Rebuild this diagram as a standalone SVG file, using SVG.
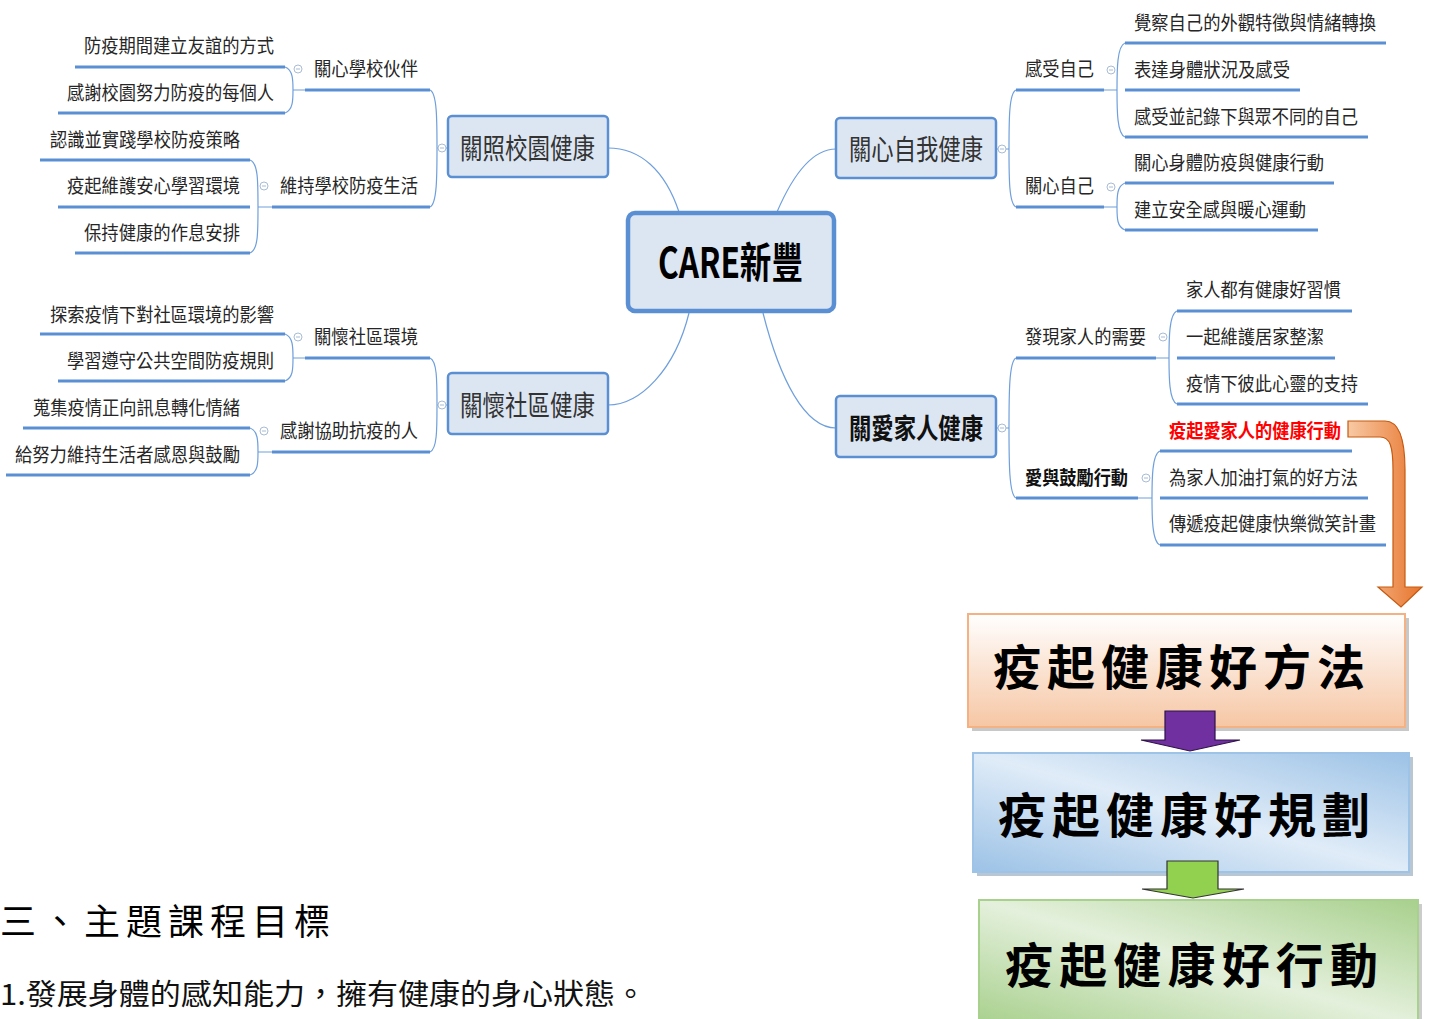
<svg xmlns="http://www.w3.org/2000/svg" width="1429" height="1019" viewBox="0 0 1429 1019">
<style>
.t{font-family:"Noto Sans CJK TC","Noto Sans CJK SC",sans-serif;font-size:19px;fill:#262626}
.m{font-family:"Noto Sans CJK TC","Noto Sans CJK SC",sans-serif;font-size:28px;fill:#333}
.b{font-weight:bold;fill:#111}
.u{stroke:#5b8fd4;stroke-width:3;fill:none}
.k{stroke:#6f9fdc;stroke-width:1.2;fill:none}
.mb{fill:#dce6f2;stroke:#5b8fd4;stroke-width:2.5}
.c{fill:#fff;stroke:#a8bcd6;stroke-width:1}
.big{font-family:"Noto Sans CJK TC","Noto Sans CJK SC",serif;font-size:48px;font-weight:bold;fill:#000}
</style>
<defs>
<linearGradient id="gOr" x1="0" y1="0" x2="1" y2="0"><stop offset="0" stop-color="#f8c9a4"/><stop offset="1" stop-color="#e8742c"/></linearGradient>
<linearGradient id="g1" x1="0" y1="0" x2="0" y2="1"><stop offset="0" stop-color="#ffffff"/><stop offset="1" stop-color="#f6c6a4"/></linearGradient>
<linearGradient id="g2" x1="1" y1="0" x2="0" y2="1"><stop offset="0" stop-color="#9cc2e6"/><stop offset="0.5" stop-color="#e0ecf8"/><stop offset="1" stop-color="#9cc2e6"/></linearGradient>
<linearGradient id="g3" x1="1" y1="0" x2="0" y2="1"><stop offset="0" stop-color="#a8d08d"/><stop offset="0.5" stop-color="#e4f0dc"/><stop offset="1" stop-color="#a8d08d"/></linearGradient>
</defs>
<rect width="1429" height="1019" fill="#fff"/>

<g id="connectors">
<path class="k" d="M679,212 C665,170 640,148 608,148"/>
<path class="k" d="M777,212 C795,170 815,149 836,149"/>
<path class="k" d="M689,313 C675,370 640,405 608,405"/>
<path class="k" d="M763,313 C780,380 805,428 836,428"/>
<path class="k" d="M430,90 C437,93 437,120 437,148 C437,176 437,204 430,207 M437,148 H448"/>
<path class="k" d="M285,67 C293,70 293,80 293,90 C293,100 293,110 285,113 M293,90 H305"/>
<path class="k" d="M250,160 C258,163 258,180 258,207 C258,234 258,250 250,253 M258,207 H272"/>
<path class="k" d="M430,358 C437,361 437,380 437,405 C437,430 437,449 430,452 M437,405 H448"/>
<path class="k" d="M285,334 C293,337 293,347 293,358 C293,369 293,378 285,381 M293,358 H305"/>
<path class="k" d="M250,428 C258,431 258,441 258,452 C258,463 258,472 250,475 M258,452 H272"/>
<path class="k" d="M1016,90 C1009,93 1009,120 1009,149 C1009,178 1009,204 1016,207 M996,149 H1009"/>
<path class="k" d="M1125,43 C1117,46 1117,70 1117,90 C1117,110 1117,134 1125,137 M1104,90 H1117"/>
<path class="k" d="M1125,183 C1117,186 1117,196 1117,207 C1117,218 1117,227 1125,230 M1104,207 H1117"/>
<path class="k" d="M1016,358 C1009,361 1009,395 1009,428 C1009,461 1009,495 1016,498 M996,428 H1009"/>
<path class="k" d="M1177,311 C1169,314 1169,340 1169,358 C1169,376 1169,401 1177,404 M1156,358 H1169"/>
<path class="k" d="M1160,451 C1152,454 1152,480 1152,498 C1152,516 1152,542 1160,545 M1138,498 H1152"/>
<path class="u" d="M75,67H285 M58,113H285 M305,90H430 M40,160H250 M58,207H250 M75,253H250 M272,207H430"/>
<path class="u" d="M40,334H285 M58,381H285 M305,358H430 M23,428H250 M6,475H250 M272,452H430"/>
<path class="u" d="M1016,90H1104 M1016,207H1104 M1125,43H1386 M1125,90H1300 M1125,137H1368 M1125,183H1334 M1125,230H1318"/>
<path class="u" d="M1016,358H1156 M1016,498H1138 M1177,311H1352 M1177,358H1335 M1177,404H1368 M1160,451H1352 M1160,498H1368 M1160,545H1386"/>
<g>
<circle class="c" cx="298" cy="69" r="4"/><circle class="c" cx="264" cy="186" r="4"/><circle class="c" cx="442" cy="148" r="4"/>
<circle class="c" cx="298" cy="337" r="4"/><circle class="c" cx="264" cy="431" r="4"/><circle class="c" cx="442" cy="405" r="4"/>
<circle class="c" cx="1002" cy="149" r="4"/><circle class="c" cx="1111" cy="70" r="4"/><circle class="c" cx="1111" cy="187" r="4"/>
<circle class="c" cx="1002" cy="428" r="4"/><circle class="c" cx="1163" cy="337" r="4"/><circle class="c" cx="1146" cy="478" r="4"/>
<path stroke="#a8bcd6" stroke-width="1" d="M296,69h4 M262,186h4 M440,148h4 M296,337h4 M262,431h4 M440,405h4 M1000,149h4 M1109,70h4 M1109,187h4 M1000,428h4 M1161,337h4 M1144,478h4"/>
</g>
<path d="M1348,421 H1385 C1400,421 1405,440 1405,470 V587 H1422 L1401,607 L1378,587 H1393 V470 C1393,446 1390,437 1380,437 H1348 Z" fill="url(#gOr)" stroke="#c55a11" stroke-width="1.2"/>
</g>

<g id="center">
<rect x="628" y="213" width="206" height="98" rx="7" fill="#dce6f2" stroke="#5b8fd4" stroke-width="4.5"/>
<text x="658" y="278" font-family="'Noto Sans CJK TC',sans-serif" font-size="42" font-weight="bold" fill="#000" textLength="145" lengthAdjust="spacingAndGlyphs">CARE新豐</text>
</g>

<g id="n-school">
<rect class="mb" x="448" y="116" width="160" height="61" rx="4"/>
<text class="m" x="460" y="159" textLength="135" lengthAdjust="spacingAndGlyphs">關照校園健康</text>
</g>
<g id="n-school-partner"><text class="t" x="314" y="76" textLength="104" lengthAdjust="spacingAndGlyphs">關心學校伙伴</text></g>
<g id="n-school-1"><text class="t" x="84" y="53" textLength="190" lengthAdjust="spacingAndGlyphs">防疫期間建立友誼的方式</text></g>
<g id="n-school-2"><text class="t" x="67" y="100" textLength="207" lengthAdjust="spacingAndGlyphs">感謝校園努力防疫的每個人</text></g>
<g id="n-school-life"><text class="t" x="280" y="193" textLength="138" lengthAdjust="spacingAndGlyphs">維持學校防疫生活</text></g>
<g id="n-school-3"><text class="t" x="50" y="147" textLength="190" lengthAdjust="spacingAndGlyphs">認識並實踐學校防疫策略</text></g>
<g id="n-school-4"><text class="t" x="67" y="193" textLength="173" lengthAdjust="spacingAndGlyphs">疫起維護安心學習環境</text></g>
<g id="n-school-5"><text class="t" x="84" y="240" textLength="156" lengthAdjust="spacingAndGlyphs">保持健康的作息安排</text></g>

<g id="n-community">
<rect class="mb" x="448" y="373" width="160" height="61" rx="4"/>
<text class="m" x="460" y="416" textLength="135" lengthAdjust="spacingAndGlyphs">關懷社區健康</text>
</g>
<g id="n-comm-env"><text class="t" x="314" y="344" textLength="104" lengthAdjust="spacingAndGlyphs">關懷社區環境</text></g>
<g id="n-comm-1"><text class="t" x="50" y="322" textLength="224" lengthAdjust="spacingAndGlyphs">探索疫情下對社區環境的影響</text></g>
<g id="n-comm-2"><text class="t" x="67" y="368" textLength="207" lengthAdjust="spacingAndGlyphs">學習遵守公共空間防疫規則</text></g>
<g id="n-comm-thanks"><text class="t" x="280" y="438" textLength="138" lengthAdjust="spacingAndGlyphs">感謝協助抗疫的人</text></g>
<g id="n-comm-3"><text class="t" x="33" y="415" textLength="207" lengthAdjust="spacingAndGlyphs">蒐集疫情正向訊息轉化情緒</text></g>
<g id="n-comm-4"><text class="t" x="15" y="462" textLength="225" lengthAdjust="spacingAndGlyphs">給努力維持生活者感恩與鼓勵</text></g>

<g id="n-self">
<rect class="mb" x="836" y="118" width="160" height="60" rx="4"/>
<text class="m" x="849" y="160" textLength="134" lengthAdjust="spacingAndGlyphs">關心自我健康</text>
</g>
<g id="n-self-feel"><text class="t" x="1025" y="76" textLength="69" lengthAdjust="spacingAndGlyphs">感受自己</text></g>
<g id="n-self-care"><text class="t" x="1025" y="193" textLength="69" lengthAdjust="spacingAndGlyphs">關心自己</text></g>
<g id="n-self-1"><text class="t" x="1134" y="30" textLength="242" lengthAdjust="spacingAndGlyphs">覺察自己的外觀特徵與情緒轉換</text></g>
<g id="n-self-2"><text class="t" x="1134" y="77" textLength="156" lengthAdjust="spacingAndGlyphs">表達身體狀況及感受</text></g>
<g id="n-self-3"><text class="t" x="1134" y="124" textLength="224" lengthAdjust="spacingAndGlyphs">感受並記錄下與眾不同的自己</text></g>
<g id="n-self-4"><text class="t" x="1134" y="170" textLength="190" lengthAdjust="spacingAndGlyphs">關心身體防疫與健康行動</text></g>
<g id="n-self-5"><text class="t" x="1134" y="217" textLength="172" lengthAdjust="spacingAndGlyphs">建立安全感與暖心運動</text></g>

<g id="n-family">
<rect class="mb" x="836" y="396" width="160" height="61" rx="4"/>
<text class="m b" x="849" y="439" textLength="134" lengthAdjust="spacingAndGlyphs">關愛家人健康</text>
</g>
<g id="n-fam-need"><text class="t" x="1025" y="344" textLength="121" lengthAdjust="spacingAndGlyphs">發現家人的需要</text></g>
<g id="n-fam-love"><text class="t b" x="1025" y="485" textLength="103" lengthAdjust="spacingAndGlyphs">愛與鼓勵行動</text></g>
<g id="n-fam-1"><text class="t" x="1186" y="297" textLength="155" lengthAdjust="spacingAndGlyphs">家人都有健康好習慣</text></g>
<g id="n-fam-2"><text class="t" x="1186" y="344" textLength="138" lengthAdjust="spacingAndGlyphs">一起維護居家整潔</text></g>
<g id="n-fam-3"><text class="t" x="1186" y="391" textLength="172" lengthAdjust="spacingAndGlyphs">疫情下彼此心靈的支持</text></g>
<g id="n-fam-4"><text class="t" x="1169" y="438" textLength="172" lengthAdjust="spacingAndGlyphs" font-weight="bold" style="fill:#ff0000">疫起愛家人的健康行動</text></g>
<g id="n-fam-5"><text class="t" x="1169" y="485" textLength="189" lengthAdjust="spacingAndGlyphs">為家人加油打氣的好方法</text></g>
<g id="n-fam-6"><text class="t" x="1169" y="531" textLength="207" lengthAdjust="spacingAndGlyphs">傳遞疫起健康快樂微笑計畫</text></g>

<g id="box-method">
<rect x="972" y="618" width="437" height="113" fill="#9a9a9a" opacity="0.55"/>
<rect x="968" y="614" width="437" height="113" fill="url(#g1)" stroke="#f4b183" stroke-width="2"/>
<text class="big" x="993" y="685" textLength="372" lengthAdjust="spacing">疫起健康好方法</text>
</g>
<g id="box-plan">
<rect x="977" y="757" width="436" height="119" fill="#8aa0b8" opacity="0.6"/>
<rect x="973" y="753" width="436" height="119" fill="url(#g2)" stroke="#9dc3e6" stroke-width="2"/>
<text class="big" x="998" y="833" textLength="372" lengthAdjust="spacing">疫起健康好規劃</text>
</g>
<g id="box-action">
<rect x="983" y="904" width="439" height="125" fill="#9a9a9a" opacity="0.5"/>
<rect x="979" y="900" width="439" height="125" fill="url(#g3)" stroke="#a9d18e" stroke-width="2"/>
<text class="big" x="1005" y="983" textLength="373" lengthAdjust="spacing">疫起健康好行動</text>
</g>
<g id="block-arrows">
<path d="M1165,711 H1215 V740 H1240 L1190,751 L1141,740 H1165 Z" fill="#7030a0" stroke="#2e1248" stroke-width="1.2"/>
<path d="M1167,861 H1218 V889 H1244 L1193,898 L1142,889 H1167 Z" fill="#92d050" stroke="#333" stroke-width="1.2"/>
</g>

<g id="caption">
<text x="0" y="935" font-family="'Noto Sans CJK TC',serif" font-size="36" fill="#000" textLength="330" lengthAdjust="spacing">三、主題課程目標</text>
<text x="0" y="1005" font-family="'Noto Sans CJK TC',serif" font-size="29" fill="#111" textLength="646" lengthAdjust="spacingAndGlyphs">1.發展身體的感知能力，擁有健康的身心狀態。</text>
</g>
</svg>
